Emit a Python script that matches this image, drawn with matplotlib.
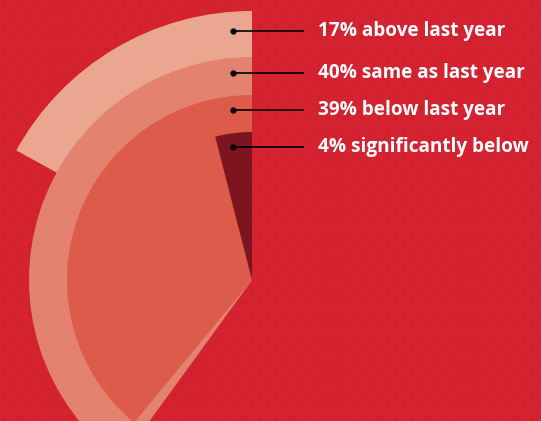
import matplotlib.pyplot as plt
import numpy as np
from matplotlib.patches import Wedge

# share of respondents per answer
labels = ['17% above last year', '40% same as last year',
          '39% below last year', '4% significantly below']
shares = [17, 40, 39, 4]
radii = [269, 223, 185, 148]
colors = ['#EBA692', '#E3826F', '#DC5B4B', '#7D1520']
label_y = [31, 73, 110, 147]

bg = '#D42231'
W, H = 541, 421
cx, cy = 252, H - 280

fig = plt.figure(figsize=(W / 100, H / 100), dpi=100, facecolor=bg)
ax = fig.add_axes([0, 0, 1, 1])
ax.set_facecolor(bg)
ax.set_xlim(0, W)
ax.set_ylim(0, H)
ax.set_aspect('equal')
ax.axis('off')

# faint dotted texture
gx, gy = np.meshgrid(np.arange(4, W, 17.0), np.arange(4, H, 11.5))
gx[1::2] += 8.5
ax.scatter(gx.ravel(), gy.ravel(), s=6, c='#B81A28', alpha=0.35,
           linewidths=0, zorder=0)

# wedges run counterclockwise from 12 o'clock, biggest radius first
for share, r, col in zip(shares, radii, colors):
    sweep = share * 3.6
    ax.add_patch(Wedge((cx, cy), r, 90, 90 + sweep, facecolor=col,
                       edgecolor='none', zorder=2))

# leader lines and labels
for lab, y in zip(labels, label_y):
    yy = H - y
    ax.plot([233, 303], [yy, yy], color='black', lw=1.2, zorder=3)
    ax.plot(233, yy, 'o', color='black', ms=3.5, zorder=3)
    ax.text(318, yy, lab, color='white', fontsize=13.7, fontweight='bold',
            family='Open Sans', va='center', ha='left', zorder=3)

fig.savefig('out.png', dpi=100, facecolor=bg)
